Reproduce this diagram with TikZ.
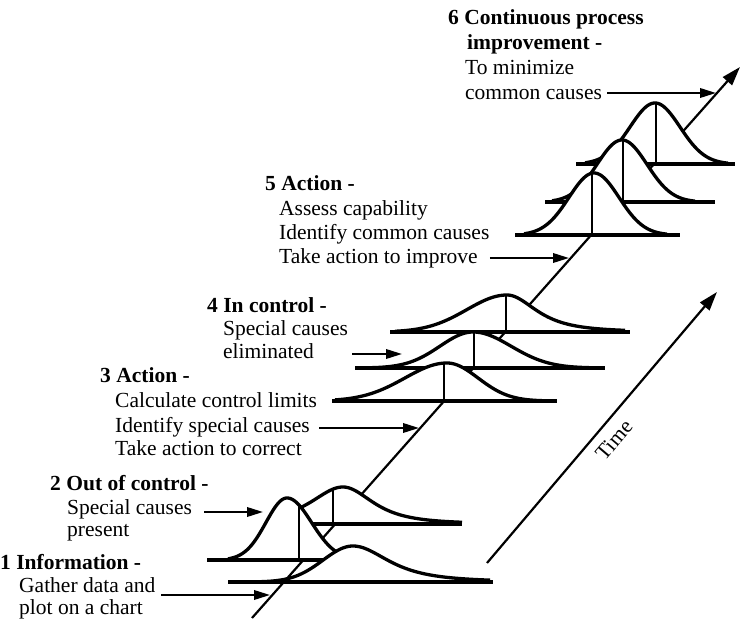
\documentclass[tikz,border=0pt]{standalone}
\usepackage{tikz}
\usepackage{fontspec}
\setmainfont{Liberation Serif}
\usetikzlibrary{arrows.meta}
\pgfmathdeclarefunction{gau}{1}{\pgfmathparse{exp(-0.5*(#1)*(#1))}}
\pgfmathdeclarefunction{stu}{1}{\pgfmathparse{exp(-1.5*ln(1+(#1)*(#1)))}}
% #1 mu, #2 base, #3 height, #4 left kernel, #5 left scale, #6 right kernel, #7 right scale, #8 xmin, #9 xmax
\newcommand{\bellshape}[9]{%
  \fill[white] (#8,#2) -- plot[domain=#8:#1,samples=50] (\x,{#2-#3*#4((\x-#1)/#5)})
     -- plot[domain=#1:#9,samples=50] (\x,{#2-#3*#6((\x-#1)/#7)}) -- (#9,#2) -- cycle;
  \draw[curve] plot[domain=#8:#1,samples=50] (\x,{#2-#3*#4((\x-#1)/#5)})
     -- plot[domain=#1:#9,samples=50] (\x,{#2-#3*#6((\x-#1)/#7)});
}
\begin{document}
\begin{tikzpicture}[x=1pt,y=-1pt,
  curve/.style={line width=3.3pt, line join=round},
  bline/.style={line width=3.3pt},
  vline/.style={line width=2.2pt},
  axisl/.style={line width=2.2pt, -{Triangle[length=19pt,width=12pt]}},
  arr/.style={line width=2pt, -{Triangle[length=16pt,width=9.5pt]}},
  lbl/.style={anchor=base west, inner sep=0pt, font=\fontsize{21.5}{24}\selectfont},
  hdr/.style={anchor=base west, inner sep=0pt, font=\fontsize{21.5}{24}\selectfont\bfseries}]
\useasboundingbox (0,0) rectangle (740,620);

% time axis through the bases of the distributions
\coordinate (A0) at (252,618);
\coordinate (A1) at (740,67);
\draw[axisl] (A0) -- (A1);

% stage 6
\bellshape{655}{164}{61}{gau}{25}{gau}{25}{585}{728}
\draw[bline] (576,164) -- (735,164);
\draw[vline] (656,164) -- (656,103);
% stage 5b
\bellshape{622}{202}{62}{gau}{25}{gau}{25}{552}{695}
\draw[bline] (545,202) -- (715,202);
\draw[vline] (623,202) -- (623,140);
% stage 5a
\bellshape{594}{235}{62}{gau}{25}{gau}{25}{524}{667}
\draw[bline] (515,235) -- (680,235);
\draw[vline] (592,235) -- (592,173.5);
% stage 4b
\bellshape{507}{332}{37}{gau}{40}{stu}{45}{395}{625}
\draw[bline] (390,332) -- (630,332);
\draw[vline] (506,332) -- (506,295.5);
% stage 4a
\bellshape{473}{368}{36}{gau}{33}{gau}{38}{370}{595}
\draw[bline] (355,368) -- (605,368);
\draw[vline] (474,368) -- (474,332.5);
% stage 3
\bellshape{447}{401}{38}{gau}{42}{gau}{31}{335}{545}
\draw[bline] (332,401) -- (557,401);
\draw[vline] (444,401) -- (444,363.5);
% stage 2b
\bellshape{343}{524}{37}{stu}{50}{stu}{46}{290}{462}
\draw[bline] (312,524) -- (462,524);
\draw[vline] (333,524) -- (333,489.5);
% stage 2a
\bellshape{287}{560}{62}{gau}{21}{gau}{24.5}{228}{350}
\draw[bline] (207,560) -- (330,560);
\draw[vline] (299,560) -- (299,505.5);
% stage 1
\bellshape{353}{582}{36}{gau}{30}{stu}{55}{232}{490}
\draw[bline] (228,582) -- (493,582);

% time arrow
\coordinate (T0) at (487,563);
\coordinate (T1) at (717,292);
\draw[axisl] (T0) -- (T1);
\node[rotate=49.7, inner sep=0pt, font=\fontsize{21.5}{24}\selectfont] (time) at (614,440) {Time};

% labels
\node[hdr] (h6a) at (448,25) {6 Continuous process};
\node[hdr] (h6b) at (467,50) {improvement -};
\node[lbl] (l6a) at (465,75) {To minimize};
\node[lbl] (l6b) at (465,100) {common causes};

\node[hdr] (h5) at (265,191) {5 Action -};
\node[lbl] (l5a) at (279,216) {Assess capability};
\node[lbl] (l5b) at (279,240) {Identify common causes};
\node[lbl] (l5c) at (279,264) {Take action to improve};

\node[hdr] (h4) at (207,313) {4 In control -};
\node[lbl] (l4a) at (223,336) {Special causes};
\node[lbl] (l4b) at (223,359) {eliminated};

\node[hdr] (h3) at (100,383) {3 Action -};
\node[lbl] (l3a) at (115,408) {Calculate control limits};
\node[lbl] (l3b) at (115,433) {Identify special causes};
\node[lbl] (l3c) at (115,456) {Take action to correct};

\node[hdr] (h2) at (50,491) {2 Out of control -};
\node[lbl] (l2a) at (67,515) {Special causes};
\node[lbl] (l2b) at (67,537) {present};

\node[hdr] (h1) at (0,569) {1 Information -};
\node[lbl] (l1a) at (19,592) {Gather data and};
\node[lbl] (l1b) at (19,614) {plot on a chart};

% arrow targets
\coordinate (t6) at (716,93);
\coordinate (t5) at (569,258);
\coordinate (t4) at (402,354);
\coordinate (t3) at (419,428);
\coordinate (t2) at (263,512);
\coordinate (t1) at (270,595);

\path ([xshift=5pt]l6b.east) coordinate (s6);
\path ([xshift=12pt]l5c.east) coordinate (s5);
\path ([xshift=38pt]l4b.east) coordinate (s4);
\path ([xshift=9pt]l3b.east) coordinate (s3);
\path ([xshift=12pt]l2a.east) coordinate (s2);
\path ([xshift=6pt]l1a.east) coordinate (s1);

\draw[arr] (s6 |- t6) -- (t6);
\draw[arr] (s5 |- t5) -- (t5);
\draw[arr] (s4 |- t4) -- (t4);
\draw[arr] (s3 |- t3) -- (t3);
\draw[arr] (s2 |- t2) -- (t2);
\draw[arr] (s1 |- t1) -- (t1);
\end{tikzpicture}
\end{document}
